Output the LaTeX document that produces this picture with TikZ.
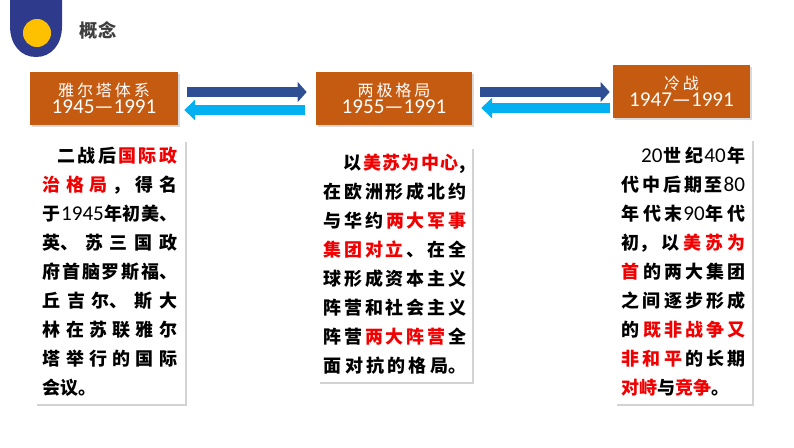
\documentclass[tikz,border=0pt]{standalone}
\usepackage{fontspec}
\setmainfont{Carlito}
\newfontfamily\cjk{Noto Sans CJK SC}
\newfontfamily\cjkhead[LetterSpace=18]{Noto Sans CJK SC}
\usetikzlibrary{arrows.meta,shadows}

\definecolor{shieldblue}{HTML}{2E3A8C}
\definecolor{sunyellow}{HTML}{FFC000}
\definecolor{headorange}{HTML}{C55A11}
\definecolor{darkarrow}{HTML}{2F4F95}
\definecolor{lightarrow}{HTML}{00B0F0}
\definecolor{keyred}{HTML}{F00000}
\definecolor{titlegray}{HTML}{3F3F3F}

\XeTeXlinebreaklocale "zh"
\XeTeXlinebreakskip=0pt plus 3pt

\newcommand\kw[1]{\hskip0pt plus 3pt{\color{keyred}#1}\hskip0pt plus 3pt}
\newcommand\yr[1]{\hskip0pt plus 1pt{\rmfamily\mdseries\fontsize{15}{20.6}\selectfont #1}\hskip0pt plus 1pt}

\tikzset{
  headbox/.style={fill=headorange, text=white, inner sep=0pt, minimum height=1.325cm,
    align=center, drop shadow={opacity=0.3, shadow xshift=1.2pt, shadow yshift=-1.2pt}},
  notebox/.style={fill=white, inner sep=0pt, align=justify,
    font=\cjk\bfseries\fontsize{12.8}{20.6}\selectfont,
    drop shadow={opacity=0.35, shadow xshift=1.5pt, shadow yshift=-1.5pt}},
  rarrow/.style={draw=darkarrow, line width=0.25cm, -{Triangle[length=0.23cm, width=0.5cm]}},
  larrow/.style={draw=lightarrow, line width=0.25cm, -{Triangle[length=0.27cm, width=0.5cm]}}
}

\newcommand\headtext[2]{{\cjkhead\fontsize{11.4}{14}\selectfont #1}\\[0pt]{\fontsize{15}{16}\selectfont #2}}

\begin{document}
\begin{tikzpicture}[x=0.025cm, y=-0.025cm]
\useasboundingbox (0,0) rectangle (794,447);

% Logo
\fill[shieldblue] (10,0) -- (10,26) .. controls (10,45) and (21,57) .. (36,57)
  .. controls (51,57) and (62,45) .. (62,26) -- (62,0) -- cycle;
\fill[sunyellow] (37,33) circle[radius=0.35cm];
\node[text=titlegray, font=\cjk\bfseries\fontsize{13}{15}\selectfont] (title) at (98,30) {概念};

% Cajas de titulo
\node[headbox, minimum width=3.7cm] (yalta) at (104,98.5)
  {\headtext{雅尔塔体系}{1945—1991}};
\node[headbox, minimum width=3.9cm] (bipolar) at (394,98.5)
  {\headtext{两极格局}{1955—1991}};
\node[headbox, minimum width=3.425cm] (coldwar) at (681.5,91.5)
  {\headtext{冷战}{1947—1991}};

% Flechas
\draw[rarrow] ([shift={(9,-6.5)}]yalta.east) -- ([shift={(-9,-6.5)}]bipolar.west);
\draw[larrow] ([shift={(-11,11.5)}]bipolar.west) -- ([shift={(6,11.5)}]yalta.east);
\draw[rarrow, shorten >=11*0.025cm] ([shift={(8,-6.5)}]bipolar.east) -- ([shift={(8,-6.5)}]bipolar.east -| coldwar.west);
\draw[larrow, shorten <=11*0.025cm] ([shift={(8,9.5)}]bipolar.east -| coldwar.west) -- ([shift={(9,9.5)}]bipolar.east);

% Textos
\node[notebox, minimum width=3.75cm, minimum height=6.6cm, text width=3.35cm] (yaltanote) at (110,272)
  {\hspace*{0.8em}二战后\kw{国际政}\linebreak
  \kw{治格局}，得名\linebreak
  于\yr{1945}年初美、\linebreak
  英、苏三国政\linebreak
  府首脑罗斯福、\linebreak
  丘吉尔、斯大\linebreak
  林在苏联雅尔\linebreak
  塔举行的国际\linebreak
  会议。};

\node[notebox, minimum width=3.85cm, minimum height=5.875cm, text width=3.55cm] (bipolarnote) at (395,264.5)
  {\parfillskip=0pt\hspace*{1.1em}以\kw{美苏为中心},\linebreak
  在欧洲形成北约\linebreak
  与华约\kw{两大军事}\linebreak
  \kw{集团对立}、在全\linebreak
  球形成资本主义\linebreak
  阵营和社会主义\linebreak
  阵营\kw{两大阵营}全\linebreak
  面对抗的格局。\par};

\node[notebox, minimum width=3.425cm, minimum height=6.625cm, text width=3.075cm] (coldwarnote) at (683.5,271.5)
  {\hspace*{1em}\yr{20}世纪\yr{40}年\linebreak
  代中后期至\yr{80}\linebreak
  年代末\yr{90}年代\linebreak
  初，以\kw{美苏为}\linebreak
  \kw{首}的两大集团\linebreak
  之间逐步形成\linebreak
  的\kw{既非战争又}\linebreak
  \kw{非和平}的长期\linebreak
  \kw{对峙}与\kw{竞争}。};

\end{tikzpicture}
\end{document}
